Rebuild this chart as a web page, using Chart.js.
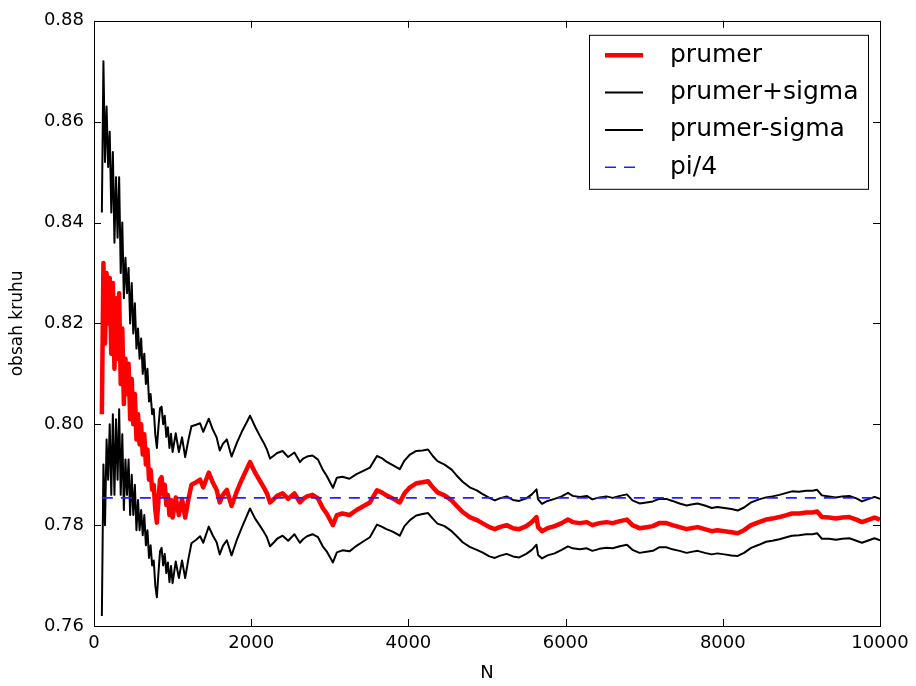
<!DOCTYPE html>
<html>
<head>
<meta charset="utf-8">
<script src="https://cdn.jsdelivr.net/npm/chart.js@4"></script>
<style>
  html, body { margin: 0; padding: 0; background: #fff; }
</style>
</head>
<body>
<canvas id="graf" width="916" height="686"></canvas>
<script>
// pocet bodu N
const osaN = [
  100, 120, 140, 160, 180, 200, 220, 240, 260, 280,
  300, 320, 340, 360, 380, 400, 420, 440, 460, 480,
  500, 520, 540, 560, 580, 600, 620, 640, 660, 680,
  700, 720, 740, 760, 780, 800, 820, 840, 860, 880,
  900, 920, 940, 960, 980, 1000,
  1040, 1080, 1120, 1160, 1200, 1240, 1300, 1350, 1390, 1460,
  1510, 1560, 1600, 1640, 1690, 1750, 1820, 1880, 1940, 1985,
  2050, 2110, 2160, 2200, 2240, 2290, 2330, 2400, 2470, 2550,
  2620, 2660, 2710, 2780, 2850, 2910, 2960, 3040, 3090, 3160,
  3250, 3340, 3420, 3510, 3600, 3660, 3720, 3800, 3890, 3950,
  4020, 4100, 4180, 4250, 4310, 4370, 4460, 4550, 4610, 4690,
  4780, 4870, 4940, 5030, 5100, 5160, 5250, 5330, 5410, 5500,
  5570, 5630, 5650, 5700, 5770, 5860, 5950, 6030, 6090, 6180,
  6270, 6340, 6430, 6520, 6600, 6690, 6780, 6850, 6940, 7030,
  7110, 7190, 7280, 7360, 7450, 7540, 7600, 7680, 7770, 7860,
  7930, 8020, 8110, 8190, 8270, 8360, 8460, 8550, 8630, 8720,
  8810, 8880, 8970, 9060, 9140, 9200, 9260, 9350, 9440, 9520,
  9610, 9700, 9770, 9860, 9930, 10000
];

// prumerny obsah
const prumer = [
  0.802, 0.832, 0.816, 0.830, 0.820, 0.829, 0.814, 0.828, 0.811, 0.825,
  0.813, 0.826, 0.808, 0.819, 0.804, 0.813, 0.806, 0.812, 0.801, 0.809,
  0.800, 0.806, 0.797, 0.802, 0.796, 0.800, 0.794, 0.798, 0.792, 0.795,
  0.789, 0.791, 0.787, 0.788, 0.783, 0.7805, 0.785, 0.789, 0.7895, 0.786,
  0.788, 0.784, 0.786, 0.782, 0.785, 0.7815,
  0.7855, 0.782, 0.7852, 0.7815, 0.785, 0.788, 0.7885, 0.789, 0.7875, 0.7904,
  0.7885, 0.787, 0.7845, 0.786, 0.787, 0.7838, 0.7868, 0.789, 0.791, 0.7925,
  0.7904, 0.7888, 0.7875, 0.7863, 0.7845, 0.7852, 0.7858, 0.7863, 0.7852, 0.7863,
  0.7845, 0.7852, 0.7857, 0.786, 0.7853, 0.7834, 0.7823, 0.780, 0.782, 0.7823,
  0.782, 0.783, 0.7837, 0.7845, 0.7869, 0.7865, 0.7859, 0.7853, 0.7845, 0.7863,
  0.7875, 0.7883, 0.7885, 0.7887, 0.7875, 0.7865, 0.7859, 0.7849, 0.7839, 0.7826,
  0.7816, 0.781, 0.7804, 0.7796, 0.7792, 0.7796, 0.780, 0.7794, 0.7792, 0.7798,
  0.7806, 0.7816, 0.7796, 0.7788, 0.7794, 0.7798, 0.7804, 0.7811, 0.7806, 0.7804,
  0.7806, 0.780, 0.7804, 0.7806, 0.7804, 0.7808, 0.7811, 0.780, 0.7794, 0.7796,
  0.7798, 0.7804, 0.7804, 0.780, 0.7796, 0.7792, 0.7794, 0.7796, 0.7792, 0.7788,
  0.779, 0.7788, 0.7786, 0.7784, 0.779, 0.780, 0.7806, 0.7811, 0.7813, 0.7816,
  0.782, 0.7823, 0.7823, 0.7825, 0.7825, 0.7827, 0.7816, 0.7815, 0.7813, 0.7815,
  0.7816, 0.7811, 0.7806, 0.7811, 0.7815, 0.7811
];

// polovina rozestupu cernych car (sigma)
const sigma = [
  0.040, 0.040, 0.036, 0.033, 0.031, 0.029, 0.028, 0.026, 0.025, 0.024,
  0.024, 0.023, 0.022, 0.021, 0.021, 0.020, 0.020, 0.019, 0.019, 0.019,
  0.018, 0.018, 0.018, 0.017, 0.017, 0.017, 0.016, 0.016, 0.016, 0.016,
  0.0155, 0.015, 0.015, 0.015, 0.015, 0.0148, 0.0145, 0.0142, 0.014, 0.014,
  0.0137, 0.0135, 0.0134, 0.0133, 0.0131, 0.013,
  0.0127, 0.0125, 0.0122, 0.012, 0.0118, 0.0116, 0.0114, 0.0112, 0.011, 0.0107,
  0.0105, 0.0104, 0.0103, 0.0101, 0.01, 0.0098, 0.0096, 0.0095, 0.0093, 0.0092,
  0.0091, 0.0089, 0.0088, 0.0087, 0.0087, 0.0086, 0.0085, 0.0084, 0.0083, 0.0081,
  0.008, 0.008, 0.0079, 0.0078, 0.0077, 0.0076, 0.0075, 0.0074, 0.0074, 0.0073,
  0.0072, 0.0071, 0.007, 0.0069, 0.0068, 0.0068, 0.0067, 0.0066, 0.0066, 0.0065,
  0.0065, 0.0064, 0.0063, 0.0063, 0.0062, 0.0062, 0.0061, 0.0061, 0.006, 0.006,
  0.0059, 0.0059, 0.0058, 0.0058, 0.0057, 0.0057, 0.0057, 0.0056, 0.0056, 0.0055,
  0.0055, 0.0055, 0.0055, 0.0054, 0.0054, 0.0054, 0.0053, 0.0053, 0.0052, 0.0052,
  0.0052, 0.0051, 0.0051, 0.0051, 0.005, 0.005, 0.005, 0.0049, 0.0049, 0.0049,
  0.0049, 0.0048, 0.0048, 0.0048, 0.0047, 0.0047, 0.0047, 0.0047, 0.0047, 0.0046,
  0.0046, 0.0046, 0.0046, 0.0045, 0.0045, 0.0045, 0.0045, 0.0044, 0.0044, 0.0044,
  0.0044, 0.0044, 0.0043, 0.0043, 0.0043, 0.0043, 0.0043, 0.0042, 0.0042, 0.0042,
  0.0042, 0.0042, 0.0041, 0.0041, 0.0041, 0.0041
];

const piCtvrt = [Math.PI / 4, Math.PI / 4];
const piN = [100, 10000];

const popisky = ['prumer', 'prumer+sigma', 'prumer-sigma', 'pi/4'];

const pismo = "'DejaVu Sans', sans-serif";

function body(xs, ys) {
  return xs.map((n, i) => ({x: n, y: ys[i]}));
}

const horni = prumer.map((p, i) => p + sigma[i]);
const dolni = prumer.map((p, i) => p - sigma[i]);

// ramecek + ticky dovnitr (jako matplotlib)
const ramecek = {
  id: 'ramecek',
  afterDatasetsDraw(chart) {
    const {ctx, chartArea: a, scales: {x, y}} = chart;
    ctx.save();
    ctx.strokeStyle = '#000';
    ctx.lineWidth = 1;
    ctx.strokeRect(Math.round(a.left) + 0.5, Math.round(a.top) + 0.5,
      Math.round(a.right - a.left), Math.round(a.bottom - a.top));
    ctx.beginPath();
    x.ticks.forEach(t => {
      const px = Math.round(x.getPixelForValue(t.value)) + 0.5;
      ctx.moveTo(px, a.bottom); ctx.lineTo(px, a.bottom - 7);
      ctx.moveTo(px, a.top); ctx.lineTo(px, a.top + 7);
    });
    y.ticks.forEach(t => {
      const py = Math.round(y.getPixelForValue(t.value)) + 0.5;
      ctx.moveTo(a.left, py); ctx.lineTo(a.left + 7, py);
      ctx.moveTo(a.right, py); ctx.lineTo(a.right - 7, py);
    });
    ctx.stroke();
    ctx.restore();
  }
};

// legenda v ramecku vpravo nahore
const legenda = {
  id: 'legenda',
  afterDraw(chart) {
    const {ctx, chartArea: a} = chart;
    const bx = a.right - 291, by = a.top + 14, bw = 279, bh = 154;
    ctx.save();
    ctx.fillStyle = '#fff';
    ctx.fillRect(bx, by, bw, bh);
    ctx.strokeStyle = '#000';
    ctx.lineWidth = 1;
    ctx.strokeRect(bx + 0.5, by + 0.5, bw, bh);
    chart.data.datasets.forEach((ds, i) => {
      const ry = by + 20.5 + i * 37.3;
      ctx.beginPath();
      ctx.strokeStyle = ds.borderColor;
      ctx.lineWidth = ds.borderWidth;
      ctx.setLineDash(ds.borderDash || []);
      ctx.moveTo(bx + 16, ry);
      ctx.lineTo(bx + 54, ry);
      ctx.stroke();
      ctx.setLineDash([]);
      ctx.fillStyle = '#000';
      ctx.font = '25px ' + pismo;
      ctx.textBaseline = 'middle';
      ctx.textAlign = 'left';
      ctx.fillText(ds.label, bx + 81, ry);
    });
    ctx.restore();
  }
};

const ctx = document.getElementById('graf');

new Chart(ctx, {
  type: 'line',
  data: {
    datasets: [
      {label: popisky[0], data: body(osaN, prumer), borderColor: '#ff0000', borderWidth: 4.5, order: 4},
      {label: popisky[1], data: body(osaN, horni), borderColor: '#000000', borderWidth: 2, order: 3},
      {label: popisky[2], data: body(osaN, dolni), borderColor: '#000000', borderWidth: 2, order: 2},
      {label: popisky[3], data: body(piN, piCtvrt), borderColor: '#2020ff', borderWidth: 1.6, borderDash: [11, 8], order: 1}
    ]
  },
  options: {
    responsive: false,
    animation: false,
    devicePixelRatio: 1,
    elements: {
      point: {radius: 0},
      line: {tension: 0, borderJoinStyle: 'round', borderCapStyle: 'butt'}
    },
    layout: {padding: {left: 0, top: 19, right: 36, bottom: 0}},
    plugins: {
      legend: {display: false},
      tooltip: {enabled: false}
    },
    scales: {
      x: {
        type: 'linear',
        min: 0,
        max: 10000,
        grid: {display: false, drawTicks: false},
        border: {display: false},
        ticks: {
          stepSize: 2000,
          padding: 7,
          color: '#000',
          maxRotation: 0,
          font: {family: pismo, size: 18},
          callback: v => String(v)
        },
        title: {
          display: true,
          text: 'N',
          color: '#000',
          font: {family: pismo, size: 18},
          padding: {top: 0, bottom: 2}
        },
        afterFit(s) { s.height = 60; }
      },
      y: {
        type: 'linear',
        min: 0.76,
        max: 0.88,
        grid: {display: false, drawTicks: false},
        border: {display: false},
        ticks: {
          stepSize: 0.02,
          padding: 10,
          color: '#000',
          font: {family: pismo, size: 18},
          callback: v => v.toFixed(2)
        },
        title: {
          display: true,
          text: 'obsah kruhu',
          color: '#000',
          font: {family: pismo, size: 17},
          padding: {top: 7, bottom: 0}
        },
        afterFit(s) { s.width = 94; }
      }
    }
  },
  plugins: [ramecek, legenda]
});
</script>
</body>
</html>
